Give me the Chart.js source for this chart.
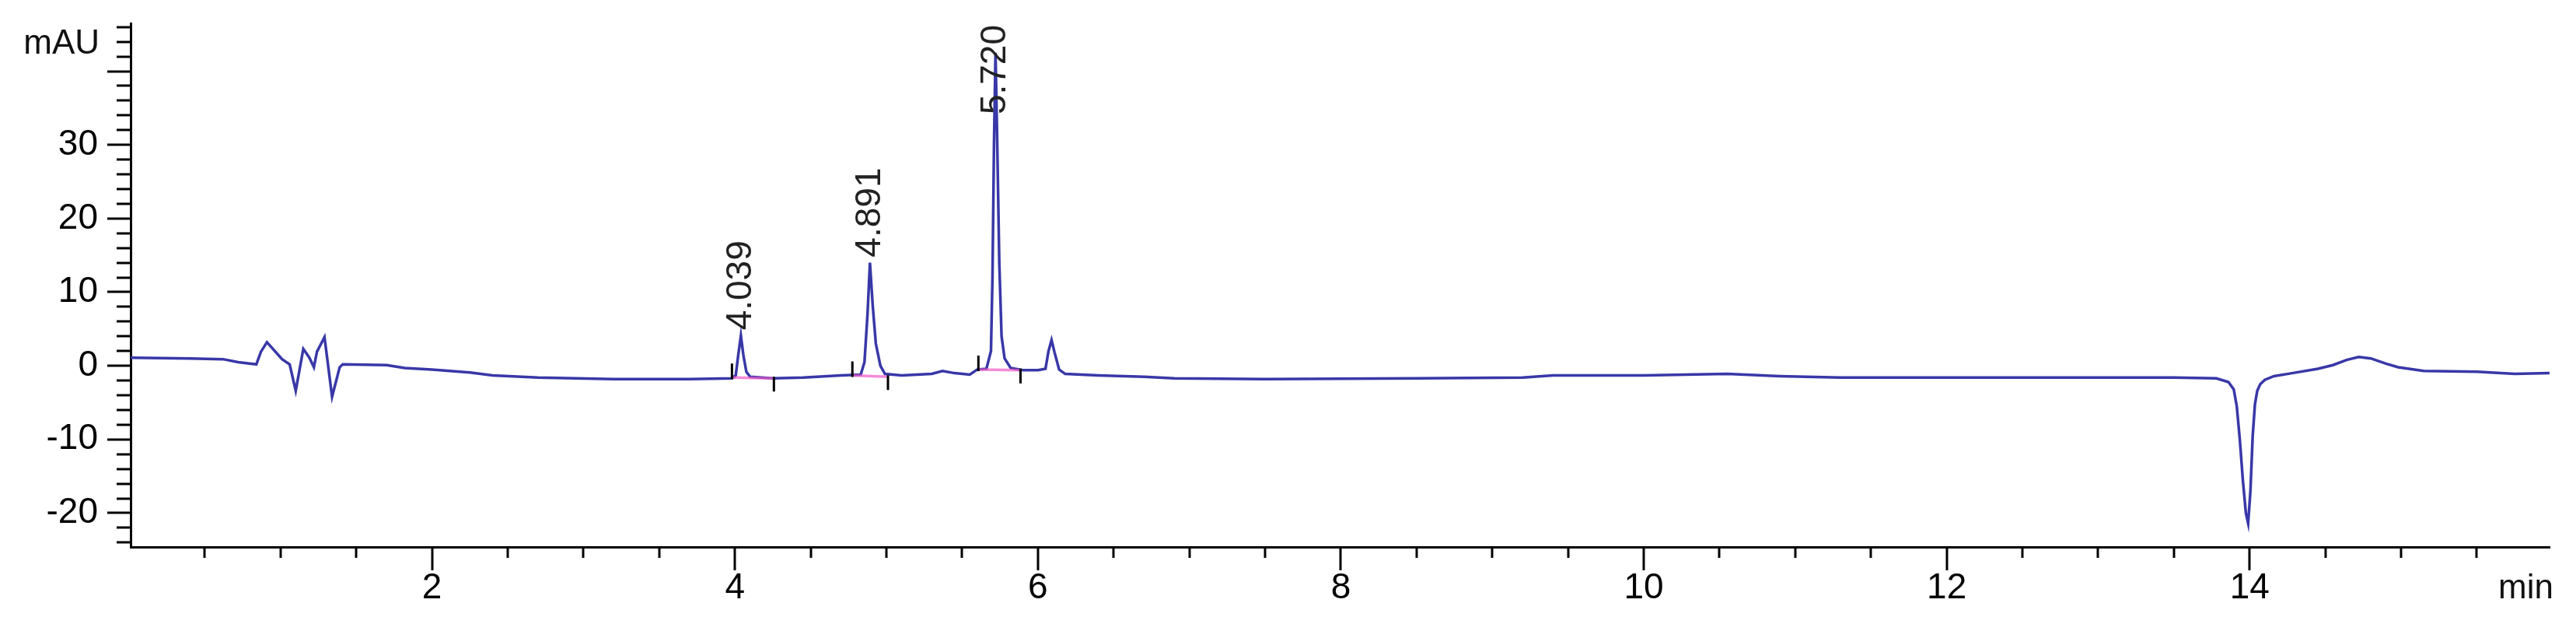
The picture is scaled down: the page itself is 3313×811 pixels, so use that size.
<!DOCTYPE html>
<html>
<head>
<meta charset="utf-8">
<script src="https://cdn.jsdelivr.net/npm/chart.js@4.4.1/dist/chart.umd.min.js"></script>
<style>
  html, body { margin: 0; padding: 0; background: #fff; }
  canvas { display: block; }
</style>
</head>
<body>
<canvas id="chromChart" width="3313" height="811"></canvas>
<script>
// signal trace (min / mAU)
const timeMin = [
  0.01, 0.40, 0.62, 0.72, 0.84, 0.87, 0.91, 1.01, 1.06, 1.10, 1.15, 1.19, 1.22, 1.24, 1.29, 1.34, 1.39, 1.41,
  1.70, 1.82, 2.00, 2.25, 2.40, 2.70, 3.20, 3.70,
  3.98, 4.005, 4.02, 4.039, 4.055, 4.075, 4.10, 4.25, 4.45, 4.70,
  4.83, 4.855, 4.875, 4.891, 4.91, 4.93, 4.96, 4.99, 5.10, 5.30, 5.37, 5.45, 5.55, 5.60,
  5.66, 5.69, 5.70, 5.71, 5.72, 5.73, 5.745, 5.76, 5.78, 5.82, 5.90,
  6.00, 6.05, 6.07, 6.09, 6.11, 6.14, 6.18, 6.40, 6.70, 6.90, 7.50, 8.50, 9.20, 9.40, 10.00, 10.55, 10.90,
  11.30, 12.50, 13.50, 13.78, 13.86, 13.895, 13.915, 13.935, 13.955, 13.975, 13.99, 14.005, 14.02, 14.035,
  14.05, 14.07, 14.10, 14.16, 14.28, 14.45, 14.55, 14.64, 14.72, 14.80, 14.90, 14.98, 15.15, 15.50, 15.75, 15.98
];
const signalMAU = [
  1.1, 1.0, 0.9, 0.5, 0.2, 1.9, 3.2, 0.9, 0.2, -3.4, 2.3, 1.1, -0.2, 1.9, 3.9, -4.2, -0.2, 0.2,
  0.1, -0.3, -0.5, -0.9, -1.3, -1.6, -1.8, -1.8,
  -1.7, -1.3, 1.2, 4.1, 1.5, -0.8, -1.5, -1.7, -1.6, -1.3,
  -1.2, 0.5, 7.0, 14.0, 8.0, 3.0, 0.0, -1.1, -1.3, -1.1, -0.7, -1.0, -1.2, -0.5,
  -0.4, 2.0, 12.0, 30.0, 42.5, 32.0, 14.0, 4.0, 1.0, -0.3, -0.6,
  -0.6, -0.4, 2.0, 3.5, 1.8, -0.5, -1.1, -1.3, -1.5, -1.7, -1.8, -1.7, -1.6, -1.3, -1.3, -1.1, -1.4,
  -1.6, -1.6, -1.6, -1.7, -2.2, -3.2, -5.5, -10.0, -15.5, -20.0, -21.4, -17.0, -9.5, -5.2,
  -3.4, -2.5, -1.9, -1.4, -1.0, -0.4, 0.1, 0.8, 1.2, 1.0, 0.3, -0.2, -0.7, -0.8, -1.1, -1.0
];

// labelled peaks
const peakRT = [4.039, 4.891, 5.720];
const peakApex = [4.1, 14.0, 42.5];
const peakLabels = ["4.039", "4.891", "5.720"];

// integration baselines (start/end of each peak)
const intStart = [3.98, 4.775, 5.607];
const intStartY = [-1.6, -1.3, -0.5];
const intEnd = [4.257, 5.01, 5.885];
const intEndY = [-1.7, -1.5, -0.6];

const xTickValues = [2, 4, 6, 8, 10, 12, 14];
const yTickValues = [-20, -10, 0, 10, 20, 30];

const axisFont = { family: "Arial, 'Liberation Sans', sans-serif", size: 46 };

const traceData = timeMin.map((t, i) => ({ x: t, y: signalMAU[i] }));

const datasets = [{
    data: traceData,
    borderColor: "#3838a8",
    borderWidth: 3.5,
    pointRadius: 0,
    tension: 0,
    order: 2
}];
intStart.forEach((s, i) => {
    datasets.push({
        data: [{ x: s, y: intStartY[i] }, { x: intEnd[i], y: intEndY[i] }],
        borderColor: "rgba(240, 90, 200, 0.7)",
        borderWidth: 3.5,
        pointRadius: 0,
        order: 1
    });
});

const chromPlugin = {
    id: "chromDecor",
    afterDraw(chart) {
        const ctx = chart.ctx;
        const xs = chart.scales.x;
        const ys = chart.scales.y;
        const area = chart.chartArea;
        ctx.save();
        ctx.strokeStyle = "#000";
        ctx.lineWidth = 3;

        // y ticks, minor every 2
        for (let v = Math.ceil(ys.min / 2) * 2; v <= ys.max; v += 2) {
            const py = Math.round(ys.getPixelForValue(v));
            const len = v % 10 === 0 ? 30 : 18;
            ctx.beginPath();
            ctx.moveTo(area.left - len, py);
            ctx.lineTo(area.left, py);
            ctx.stroke();
        }
        // x ticks, minor every 0.5
        for (let v = 0.5; v <= xs.max; v += 0.5) {
            const px = Math.round(xs.getPixelForValue(v));
            const len = v % 2 === 0 ? 30 : 14;
            ctx.beginPath();
            ctx.moveTo(px, area.bottom);
            ctx.lineTo(px, area.bottom + len);
            ctx.stroke();
        }

        // integration start/end marks
        intStart.forEach((s, i) => {
            const sx = xs.getPixelForValue(s), sy = ys.getPixelForValue(intStartY[i]);
            const ex = xs.getPixelForValue(intEnd[i]), ey = ys.getPixelForValue(intEndY[i]);
            ctx.beginPath();
            ctx.moveTo(sx, sy + 2);
            ctx.lineTo(sx, sy - 18);
            ctx.moveTo(ex, ey - 2);
            ctx.lineTo(ex, ey + 17);
            ctx.stroke();
        });

        // unit labels
        ctx.fillStyle = "#111";
        ctx.font = "44px Arial, 'Liberation Sans', sans-serif";
        ctx.textAlign = "right";
        ctx.textBaseline = "middle";
        ctx.fillText("mAU", 128, 57);
        ctx.fillText("min", 3284, 757);

        // peak retention time labels
        ctx.fillStyle = "#222";
        ctx.font = "46px Arial, 'Liberation Sans', sans-serif";
        ctx.textAlign = "left";
        peakRT.forEach((rt, i) => {
            const px = xs.getPixelForValue(rt);
            const py = ys.getPixelForValue(peakApex[i]);
            const len = ctx.measureText(peakLabels[i]).width;
            let bottom = py - 7;
            if (bottom - len < area.top + 2) bottom = area.top + 2 + len;
            ctx.save();
            ctx.translate(px, bottom);
            ctx.rotate(-Math.PI / 2);
            ctx.fillText(peakLabels[i], 0, 0);
            ctx.restore();
        });
        ctx.restore();
    }
};

new Chart(document.getElementById("chromChart"), {
    type: "line",
    data: { datasets },
    options: {
        responsive: false,
        animation: false,
        layout: { padding: { left: 0, right: 34, top: 30, bottom: 0 } },
        plugins: {
            legend: { display: false },
            tooltip: { enabled: false }
        },
        scales: {
            x: {
                type: "linear",
                min: 0.01,
                max: 15.98,
                afterBuildTicks: s => { s.ticks = xTickValues.map(v => ({ value: v })); },
                afterFit: s => { s.height = 108; s.paddingLeft = 0; s.paddingRight = 0; },
                grid: { display: false, drawTicks: false },
                border: { display: true, color: "#000", width: 3 },
                ticks: {
                    color: "#000",
                    font: axisFont,
                    padding: 26,
                    maxRotation: 0,
                    autoSkip: false,
                    callback: v => String(v)
                }
            },
            y: {
                type: "linear",
                min: -24.6,
                max: 46.5,
                afterBuildTicks: s => { s.ticks = yTickValues.map(v => ({ value: v })); },
                afterFit: s => { s.width = 168; s.paddingTop = 0; s.paddingBottom = 0; },
                grid: { display: false, drawTicks: false },
                border: { display: true, color: "#000", width: 3 },
                ticks: {
                    color: "#000",
                    font: axisFont,
                    padding: 42,
                    autoSkip: false,
                    callback: v => String(v)
                }
            }
        }
    },
    plugins: [chromPlugin]
});
</script>
</body>
</html>
